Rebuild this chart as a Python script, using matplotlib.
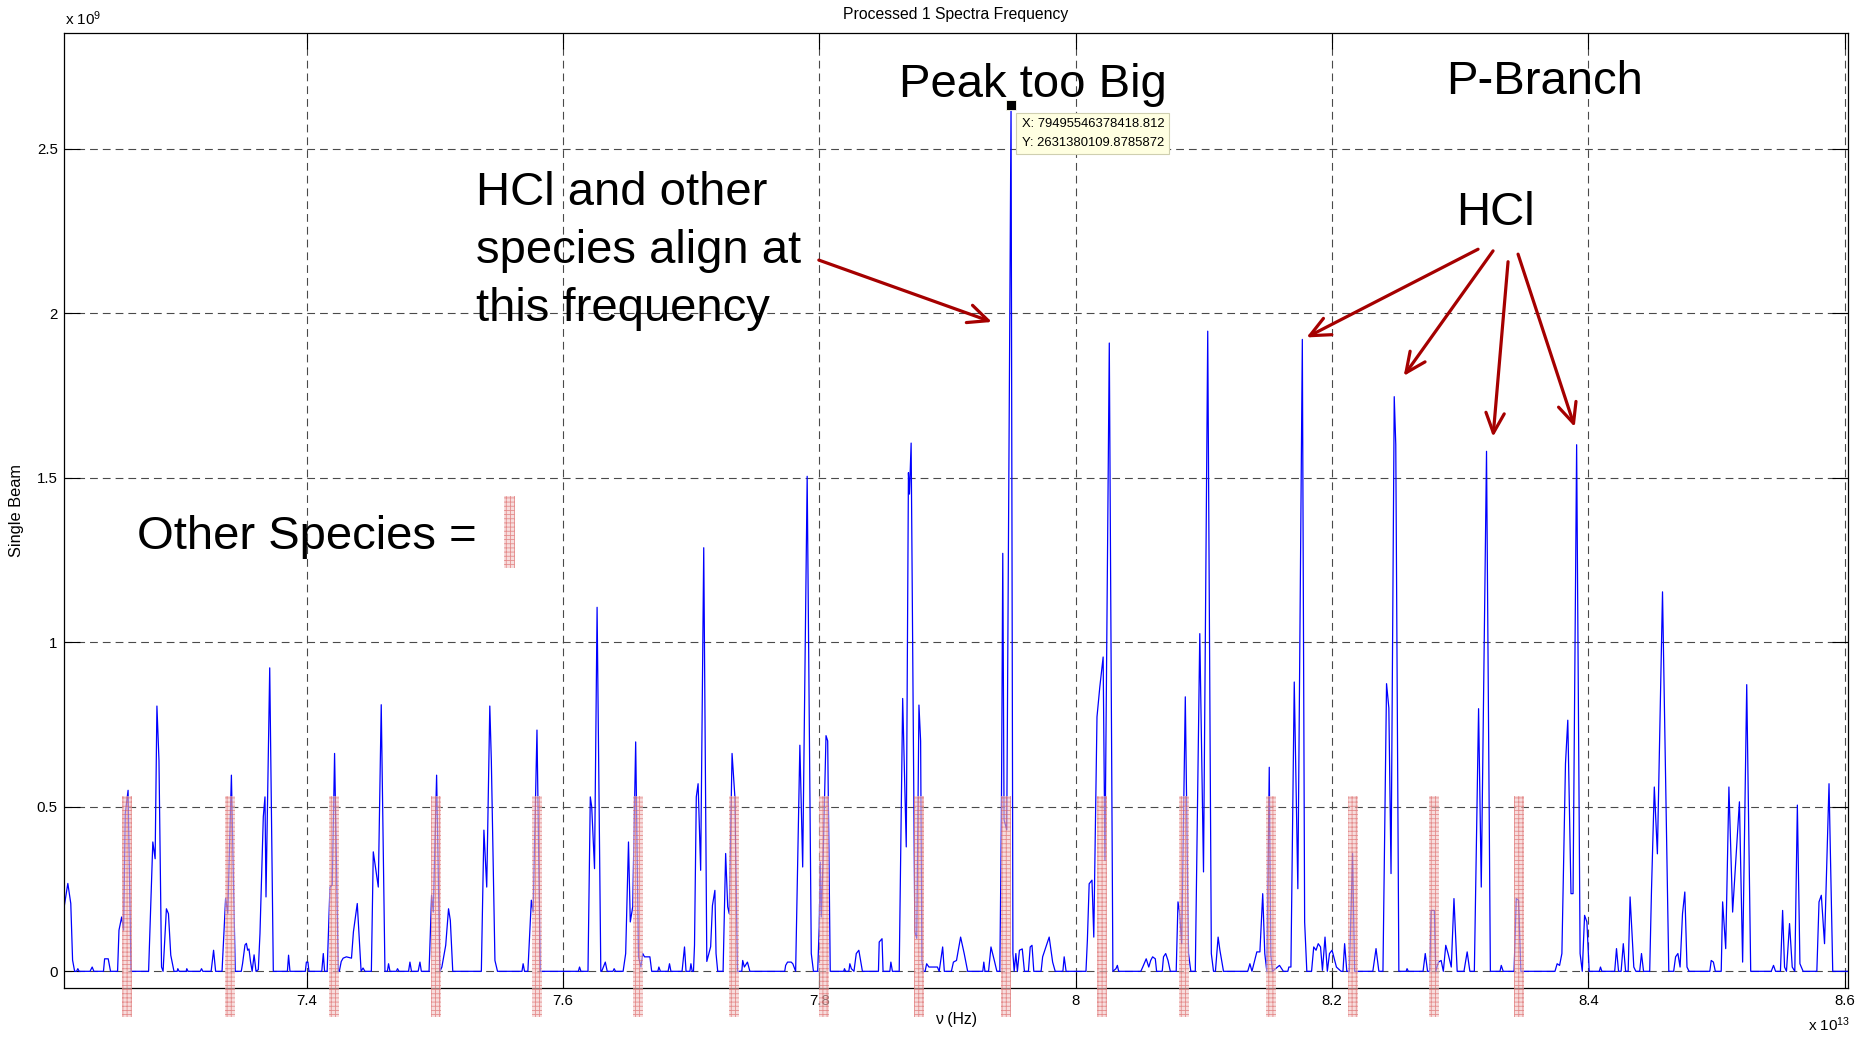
import matplotlib
matplotlib.use("Agg")
import matplotlib.pyplot as plt
from matplotlib.patches import Rectangle

plt.rcParams['font.family'] = ['Liberation Sans', 'DejaVu Sans']
plt.rcParams['mathtext.fontset'] = 'custom'
plt.rcParams['mathtext.rm'] = 'Liberation Sans'
plt.rcParams['mathtext.default'] = 'regular'
plt.rcParams['hatch.linewidth'] = 0.6

# spectrum: frequency in 1e13 Hz, single beam in 1e9
freq = [7.2110, 7.2137, 7.2160, 7.2174, 7.2190, 7.2205, 7.2215, 7.2225, 7.2310, 7.2327,
        7.2340, 7.2415, 7.2424, 7.2452, 7.2470, 7.2525, 7.2536, 7.2557, 7.2572, 7.2585,
        7.2607, 7.2630, 7.2767, 7.2800, 7.2818, 7.2832, 7.2848, 7.2868, 7.2880, 7.2906,
        7.2922, 7.2940, 7.2965, 7.2990, 7.2995, 7.3005, 7.3060, 7.3065, 7.3075, 7.3170,
        7.3180, 7.3190, 7.3255, 7.3274, 7.3290, 7.3340, 7.3368, 7.3385, 7.3413, 7.3443,
        7.3490, 7.3500, 7.3519, 7.3530, 7.3540, 7.3550, 7.3562, 7.3575, 7.3590, 7.3605,
        7.3623, 7.3636, 7.3662, 7.3675, 7.3683, 7.3712, 7.3740, 7.3850, 7.3859, 7.3870,
        7.3990, 7.3998, 7.4010, 7.4018, 7.4118, 7.4130, 7.4140, 7.4160, 7.4182, 7.4200,
        7.4218, 7.4247, 7.4255, 7.4270, 7.4285, 7.4310, 7.4350, 7.4365, 7.4395, 7.4412,
        7.4425, 7.4440, 7.4455, 7.4505, 7.4520, 7.4559, 7.4582, 7.4611, 7.4630, 7.4639,
        7.4650, 7.4700, 7.4709, 7.4720, 7.4795, 7.4806, 7.4818, 7.4870, 7.4884, 7.4895,
        7.4955, 7.4975, 7.4988, 7.5014, 7.5040, 7.5055, 7.5085, 7.5107, 7.5121, 7.5140,
        7.5363, 7.5383, 7.5405, 7.5429, 7.5441, 7.5469, 7.5489, 7.5680, 7.5689, 7.5700,
        7.5726, 7.5753, 7.5767, 7.5797, 7.5823, 7.6120, 7.6129, 7.6140, 7.6195, 7.6213,
        7.6224, 7.6246, 7.6266, 7.6295, 7.6302, 7.6330, 7.6345, 7.6390, 7.6399, 7.6410,
        7.6469, 7.6489, 7.6511, 7.6525, 7.6544, 7.6567, 7.6589, 7.6608, 7.6622, 7.6636,
        7.6660, 7.6678, 7.6692, 7.6740, 7.6748, 7.6760, 7.6820, 7.6831, 7.6842, 7.6929,
        7.6948, 7.6960, 7.6990, 7.6998, 7.7008, 7.7018, 7.7026, 7.7040, 7.7054, 7.7074,
        7.7098, 7.7122, 7.7135, 7.7152, 7.7166, 7.7185, 7.7194, 7.7207, 7.7249, 7.7269,
        7.7285, 7.7297, 7.7319, 7.7341, 7.7361, 7.7395, 7.7402, 7.7415, 7.7439, 7.7458,
        7.7730, 7.7737, 7.7752, 7.7780, 7.7793, 7.7815, 7.7848, 7.7870, 7.7905, 7.7937,
        7.7954, 7.7987, 7.7999, 7.8007, 7.8015, 7.8029, 7.8052, 7.8065, 7.8085, 7.8190,
        7.8196, 7.8205, 7.8230, 7.8238, 7.8250, 7.8270, 7.8288, 7.8308, 7.8336, 7.8461,
        7.8467, 7.8489, 7.8497, 7.8550, 7.8558, 7.8570, 7.8623, 7.8650, 7.8678, 7.8695,
        7.8703, 7.8716, 7.8745, 7.8760, 7.8777, 7.8790, 7.8800, 7.8812, 7.8825, 7.8837,
        7.8855, 7.8921, 7.8935, 7.8962, 7.8975, 7.9030, 7.9046, 7.9070, 7.9102, 7.9130,
        7.9157, 7.9275, 7.9283, 7.9292, 7.9320, 7.9339, 7.9365, 7.9385, 7.9408, 7.9420,
        7.9431, 7.9441, 7.9462, 7.94955, 7.9510, 7.9520, 7.9533, 7.9545, 7.9561, 7.9583,
        7.9600, 7.9631, 7.9645, 7.9659, 7.9673, 7.9730, 7.9742, 7.9793, 7.9820, 7.9840,
        7.9900, 7.9910, 7.9925, 8.0080, 8.0091, 8.0105, 8.0127, 8.0141, 8.0166, 8.0188,
        8.0214, 8.0228, 8.0262, 8.0290, 8.0314, 8.0325, 8.0335, 8.0508, 8.0523, 8.0550,
        8.0570, 8.0585, 8.0600, 8.0621, 8.0631, 8.0675, 8.0685, 8.0702, 8.0720, 8.0738,
        8.0784, 8.0798, 8.0809, 8.0827, 8.0855, 8.0880, 8.0898, 8.0933, 8.0968, 8.0997,
        8.1030, 8.1058, 8.1075, 8.1090, 8.1111, 8.1125, 8.1153, 8.1342, 8.1359, 8.1375,
        8.1413, 8.1437, 8.1459, 8.1475, 8.1491, 8.1510, 8.1522, 8.1535, 8.1590, 8.1620,
        8.1655, 8.1663, 8.1679, 8.1705, 8.1733, 8.1768, 8.1786, 8.1803, 8.1840, 8.1857,
        8.1875, 8.1892, 8.1910, 8.1925, 8.1945, 8.1963, 8.1980, 8.2000, 8.2034, 8.2070,
        8.2085, 8.2098, 8.2115, 8.2135, 8.2160, 8.2176, 8.2318, 8.2343, 8.2365, 8.2397,
        8.2425, 8.2443, 8.2460, 8.2485, 8.2497, 8.2521, 8.2578, 8.2585, 8.2595, 8.2710,
        8.2727, 8.2745, 8.2762, 8.2773, 8.2798, 8.2809, 8.2830, 8.2851, 8.2868, 8.2887,
        8.2905, 8.2930, 8.2951, 8.2976, 8.3029, 8.3054, 8.3075, 8.3110, 8.3143, 8.3164,
        8.3205, 8.3235, 8.3310, 8.3320, 8.3335, 8.3420, 8.3437, 8.3455, 8.3473, 8.3739,
        8.3756, 8.3775, 8.3793, 8.3821, 8.3839, 8.3864, 8.3880, 8.3908, 8.3935, 8.3952,
        8.3970, 8.3988, 8.4006, 8.4085, 8.4094, 8.4105, 8.4205, 8.4219, 8.4235, 8.4255,
        8.4272, 8.4290, 8.4310, 8.4325, 8.4354, 8.4370, 8.4400, 8.4414, 8.4430, 8.4478,
        8.4492, 8.4514, 8.4538, 8.4578, 8.4627, 8.4665, 8.4680, 8.4698, 8.4715, 8.4734,
        8.4752, 8.4769, 8.4785, 8.4947, 8.4958, 8.4975, 8.4990, 8.5036, 8.5047, 8.5071,
        8.5096, 8.5125, 8.5153, 8.5178, 8.5203, 8.5235, 8.5266, 8.5426, 8.5444, 8.5460,
        8.5498, 8.5515, 8.5530, 8.5545, 8.5569, 8.5590, 8.5610, 8.5630, 8.5650, 8.5675,
        8.5782, 8.5799, 8.5817, 8.5842, 8.5877, 8.5906, 8.6025]
beam = [0.200, 0.267, 0.206, 0.034, 0.000, 0.000, 0.008, 0.000, 0.000, 0.013,
        0.000, 0.000, 0.038, 0.038, 0.000, 0.000, 0.125, 0.165, 0.125, 0.480,
        0.550, 0.000, 0.000, 0.393, 0.342, 0.806, 0.641, 0.013, 0.000, 0.190,
        0.175, 0.049, 0.000, 0.000, 0.008, 0.000, 0.000, 0.008, 0.000, 0.000,
        0.008, 0.000, 0.000, 0.064, 0.000, 0.000, 0.222, 0.176, 0.596, 0.000,
        0.000, 0.023, 0.080, 0.085, 0.064, 0.068, 0.030, 0.000, 0.050, 0.000,
        0.005, 0.115, 0.470, 0.530, 0.226, 0.922, 0.000, 0.000, 0.049, 0.000,
        0.000, 0.028, 0.028, 0.000, 0.000, 0.054, 0.000, 0.000, 0.256, 0.262,
        0.662, 0.000, 0.000, 0.030, 0.040, 0.044, 0.040, 0.120, 0.206, 0.090,
        0.000, 0.010, 0.000, 0.000, 0.363, 0.256, 0.810, 0.000, 0.000, 0.023,
        0.000, 0.000, 0.008, 0.000, 0.000, 0.028, 0.000, 0.000, 0.028, 0.000,
        0.000, 0.231, 0.180, 0.596, 0.000, 0.013, 0.079, 0.190, 0.155, 0.000,
        0.000, 0.429, 0.256, 0.806, 0.640, 0.033, 0.000, 0.000, 0.023, 0.000,
        0.000, 0.216, 0.180, 0.733, 0.000, 0.000, 0.013, 0.000, 0.000, 0.530,
        0.500, 0.312, 1.106, 0.000, 0.000, 0.028, 0.000, 0.000, 0.008, 0.000,
        0.000, 0.054, 0.393, 0.150, 0.196, 0.697, 0.044, 0.013, 0.054, 0.044,
        0.044, 0.044, 0.000, 0.000, 0.013, 0.000, 0.000, 0.023, 0.000, 0.000,
        0.074, 0.000, 0.000, 0.023, 0.000, 0.000, 0.079, 0.530, 0.570, 0.307,
        1.287, 0.030, 0.050, 0.075, 0.200, 0.246, 0.054, 0.000, 0.000, 0.358,
        0.196, 0.175, 0.662, 0.530, 0.000, 0.000, 0.033, 0.013, 0.028, 0.000,
        0.000, 0.018, 0.028, 0.028, 0.023, 0.000, 0.687, 0.317, 1.504, 0.054,
        0.000, 0.000, 0.135, 0.332, 0.165, 0.337, 0.716, 0.700, 0.000, 0.000,
        0.008, 0.000, 0.000, 0.023, 0.008, 0.000, 0.054, 0.064, 0.000, 0.000,
        0.089, 0.099, 0.000, 0.000, 0.028, 0.000, 0.000, 0.829, 0.378, 1.515,
        1.450, 1.605, 0.120, 0.100, 0.809, 0.700, 0.030, 0.000, 0.000, 0.023,
        0.013, 0.013, 0.000, 0.074, 0.000, 0.000, 0.028, 0.033, 0.104, 0.054,
        0.000, 0.000, 0.028, 0.000, 0.000, 0.074, 0.033, 0.000, 0.000, 0.460,
        1.270, 0.460, 0.430, 2.6314, 0.054, 0.000, 0.054, 0.000, 0.064, 0.068,
        0.000, 0.000, 0.074, 0.079, 0.000, 0.000, 0.044, 0.104, 0.028, 0.000,
        0.000, 0.044, 0.000, 0.000, 0.094, 0.266, 0.277, 0.104, 0.773, 0.864,
        0.955, 0.337, 1.909, 0.000, 0.008, 0.018, 0.000, 0.000, 0.013, 0.038,
        0.013, 0.033, 0.044, 0.038, 0.000, 0.000, 0.044, 0.054, 0.033, 0.000,
        0.000, 0.211, 0.185, 0.084, 0.834, 0.054, 0.000, 0.000, 1.026, 0.302,
        1.945, 0.054, 0.000, 0.000, 0.104, 0.064, 0.000, 0.000, 0.023, 0.000,
        0.059, 0.059, 0.236, 0.054, 0.000, 0.620, 0.050, 0.000, 0.018, 0.000,
        0.000, 0.013, 0.013, 0.879, 0.251, 1.920, 0.150, 0.000, 0.000, 0.074,
        0.064, 0.084, 0.074, 0.003, 0.104, 0.000, 0.054, 0.064, 0.013, 0.000,
        0.000, 0.084, 0.000, 0.000, 0.358, 0.000, 0.000, 0.069, 0.000, 0.000,
        0.874, 0.800, 0.297, 1.746, 1.600, 0.000, 0.000, 0.008, 0.000, 0.000,
        0.054, 0.000, 0.000, 0.185, 0.185, 0.000, 0.028, 0.033, 0.000, 0.079,
        0.054, 0.013, 0.221, 0.000, 0.000, 0.059, 0.000, 0.000, 0.798, 0.256,
        1.580, 0.000, 0.000, 0.018, 0.000, 0.000, 0.221, 0.216, 0.000, 0.000,
        0.023, 0.018, 0.054, 0.631, 0.763, 0.236, 0.236, 1.600, 0.054, 0.000,
        0.170, 0.150, 0.000, 0.000, 0.013, 0.000, 0.000, 0.069, 0.000, 0.000,
        0.084, 0.000, 0.000, 0.226, 0.013, 0.000, 0.000, 0.054, 0.000, 0.000,
        0.246, 0.560, 0.357, 1.153, 0.000, 0.000, 0.044, 0.054, 0.013, 0.175,
        0.241, 0.013, 0.000, 0.000, 0.033, 0.028, 0.000, 0.000, 0.211, 0.069,
        0.560, 0.180, 0.357, 0.515, 0.028, 0.871, 0.000, 0.000, 0.018, 0.000,
        0.000, 0.185, 0.013, 0.000, 0.145, 0.013, 0.000, 0.505, 0.023, 0.000,
        0.000, 0.211, 0.231, 0.084, 0.570, 0.000, 0.000]

# frequencies where the other species sit (hatched bands)
species_freq = [7.2598, 7.3405, 7.4211, 7.5009, 7.5799, 7.6585, 7.7335, 7.8037,
                7.8779, 7.9460, 8.0202, 8.0846, 8.1523, 8.2162, 8.2796, 8.3455]
band_low, band_high = -0.140, 0.532

peak_x, peak_y = 7.94955463784188, 2.6313801098785872
xtick_vals = [7.4, 7.6, 7.8, 8.0, 8.2, 8.4, 8.6]
xtick_labels = ['7.4', '7.6', '7.8', '8', '8.2', '8.4', '8.6']
ytick_vals = [0, 0.5, 1.0, 1.5, 2.0, 2.5]
ytick_labels = ['0', '0.5', '1', '1.5', '2', '2.5']

fig = plt.figure(figsize=(18.64, 10.37), dpi=100)
ax = fig.add_axes([0.03433, 0.04725, 0.95708, 0.92093])

ax.plot(freq, beam, color='#0000ff', lw=0.9, zorder=2)

band_fc = (0.95, 0.78, 0.78)
band_ec = (0.85, 0.35, 0.35)
bars = ax.bar(species_freq, band_high - band_low, bottom=band_low, width=0.0078,
              color=band_fc, edgecolor=band_ec, linewidth=0, hatch='++++',
              alpha=0.6, zorder=3)
for b in bars:
    b.set_clip_on(False)

ax.set_xlim(7.2107, 8.6025)
ax.set_ylim(-0.0507, 2.851)
ax.set_xticks(xtick_vals)
ax.set_xticklabels(xtick_labels)
ax.set_yticks(ytick_vals)
ax.set_yticklabels(ytick_labels)
ax.set_axisbelow(True)
ax.grid(True, linestyle=(0, (7, 4.5)), color='#4a4a4a', lw=0.8)
ax.tick_params(direction='in', length=11.5, width=0.8, top=True, right=True,
               labelsize=10.8, pad=4.5)
for s in ax.spines.values():
    s.set_linewidth(0.9)

ax.set_title('Processed 1 Spectra Frequency', fontsize=11.3, pad=10)
ax.set_xlabel('ν (Hz)', fontsize=11.3, va='top')
ax.xaxis.set_label_coords(0.5, -0.025)
ax.set_ylabel('Single Beam', fontsize=11.8)
ax.yaxis.set_label_coords(-0.0224, 0.5)

fig.text(65 / 1864, 1 - 25 / 1037, r'x 10$^{9}$', fontsize=11, va='baseline')
fig.text(1808 / 1864, 1 - 1031 / 1037, r'x 10$^{13}$', fontsize=11, va='baseline')

# annotations
big = 34
ax.text(7.9666, 2.658, 'Peak too Big', fontsize=big, ha='center', va='baseline')
ax.text(8.3659, 2.666, 'P-Branch', fontsize=big, ha='center', va='baseline')
ax.text(8.3275, 2.267, 'HCl', fontsize=big, ha='center', va='baseline')
ax.text(7.5321, 2.432, 'HCl and other\nspecies align at\nthis frequency',
        fontsize=big, ha='left', va='top', linespacing=1.41)
ax.text(7.2676, 1.283, 'Other Species =', fontsize=big, ha='left', va='baseline')
ax.add_patch(Rectangle((7.5539, 1.225), 0.0086, 0.219, facecolor=band_fc,
                       edgecolor=band_ec, linewidth=0, hatch='++++', alpha=0.6))

arrow_kw = dict(arrowstyle='->,head_length=0.72,head_width=0.33', color='#a50000',
                lw=2.3, shrinkA=0, shrinkB=0, mutation_scale=20)
arrows = [((7.7996, 2.161), (7.9346, 1.973)),
          ((8.3139, 2.194), (8.1800, 1.926)),
          ((8.3256, 2.189), (8.2559, 1.809)),
          ((8.3373, 2.156), (8.3256, 1.624)),
          ((8.3451, 2.179), (8.3893, 1.654))]
for start, tip in arrows:
    ax.annotate('', xy=tip, xytext=start, arrowprops=arrow_kw, zorder=4)

# data tip on the tallest peak
ax.plot([peak_x], [peak_y], 's', color='k', ms=7, mec='#fffff0', mew=0.6, zorder=6)
ax.annotate('X: 79495546378418.812\nY: 2631380109.8785872', xy=(peak_x, peak_y),
            xytext=(10.5, -13), textcoords='offset pixels', ha='left', va='top',
            fontsize=9.4, linespacing=1.7, zorder=7,
            bbox=dict(boxstyle='square,pad=0.4', fc='#ffffe1', ec='#cfcfb0', lw=0.8))

fig.savefig('out.png', dpi=100)
